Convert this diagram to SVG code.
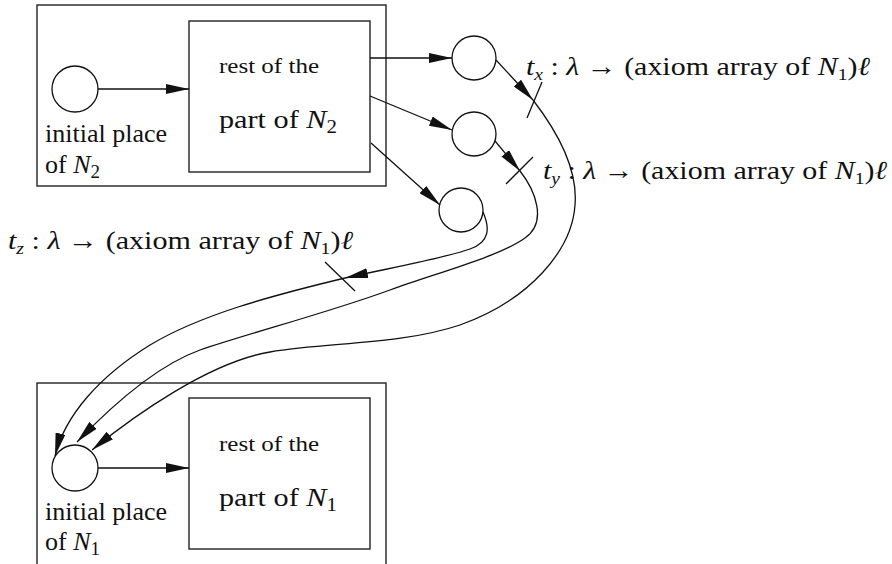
<svg xmlns="http://www.w3.org/2000/svg" width="892" height="564" viewBox="0 0 892 564">
<style>
.box{fill:none;stroke:#222;stroke-width:1.4}
.pl{fill:#fff;stroke:#111;stroke-width:1.3}
.ln{fill:none;stroke:#111;stroke-width:1.3}
.ar{fill:none;stroke:#111;stroke-width:1.3;marker-end:url(#ah)}
text{font-family:"Liberation Serif","Times New Roman",serif;fill:#111}
.lbl{font-size:26px}
.m{font-size:26px}
.it{font-style:italic}
</style>
<defs>
<marker id="ah" markerWidth="24" markerHeight="10" refX="23" refY="5" orient="auto" markerUnits="userSpaceOnUse"><path d="M0,0 L23,5 L0,10 z" fill="#111"/></marker>
</defs>
<rect width="892" height="564" fill="#fff"/>

<g id="netN2">
<rect class="box" x="37" y="5" width="349" height="181"/>
</g>
<g id="initN2">
<circle class="pl" cx="75" cy="89" r="23"/>
<text class="lbl" x="45" y="142">initial place</text>
<text class="lbl" x="45" y="173">of <tspan class="it">N</tspan><tspan font-size="19" dy="5">2</tspan></text>
</g>
<g id="restN2">
<rect class="box" x="189" y="21" width="181" height="151"/>
<text x="219" y="73" font-size="22" textLength="100" lengthAdjust="spacingAndGlyphs">rest of the</text>
<text x="219" y="128" font-size="26" textLength="118" lengthAdjust="spacingAndGlyphs">part of <tspan class="it">N</tspan><tspan font-size="18" dy="5">2</tspan></text>
</g>
<g id="pA"><circle class="pl" cx="474" cy="58" r="22"/></g>
<g id="pB"><circle class="pl" cx="474" cy="134" r="22"/></g>
<g id="pC"><circle class="pl" cx="461" cy="210" r="22"/></g>

<g id="netN1">
<rect class="box" x="37" y="383" width="349" height="190"/>
</g>
<g id="initN1">
<circle class="pl" cx="75" cy="468" r="23"/>
<text class="lbl" x="45" y="520">initial place</text>
<text class="lbl" x="45" y="550">of <tspan class="it">N</tspan><tspan font-size="19" dy="5">1</tspan></text>
</g>
<g id="restN1">
<rect class="box" x="189" y="398" width="181" height="151"/>
<text x="219" y="451" font-size="22" textLength="100" lengthAdjust="spacingAndGlyphs">rest of the</text>
<text x="219" y="506" font-size="26" textLength="118" lengthAdjust="spacingAndGlyphs">part of <tspan class="it">N</tspan><tspan font-size="18" dy="5">1</tspan></text>
</g>

<g id="connectors">
<line class="ar" x1="98" y1="89" x2="189" y2="89"/>
<line class="ar" x1="98" y1="468" x2="189" y2="468"/>
<line class="ar" x1="370" y1="58" x2="452" y2="58"/>
<line class="ar" x1="370" y1="96" x2="452" y2="130"/>
<line class="ar" x1="371" y1="143" x2="440" y2="205"/>
<line class="ar" x1="496" y1="60" x2="533" y2="100"/>
<path class="ar" d="M533,100 C560,135 578,170 575,205 C572,250 530,300 460,325 C400,345 330,342 270,352 C210,362 135,415 92,450"/>
<line class="ln" x1="542" y1="82" x2="527" y2="118"/>
<line class="ar" x1="495" y1="141" x2="520" y2="171"/>
<path class="ar" d="M520,171 C535,190 548,222 525,238 C500,256 440,272 390,290 C330,312 250,333 200,350 C150,368 100,418 77,442"/>
<line class="ln" x1="533" y1="157" x2="506" y2="184"/>
<path class="ar" d="M483,212 C490,228 490,242 470,249 C445,258 390,268 345,278"/>
<path class="ar" d="M345,278 C270,296 200,315 150,345 C100,376 65,415 55,456"/>
<line class="ln" x1="325" y1="262" x2="355" y2="291"/>
</g>

<g id="labels">
<text class="m" x="526" y="75" textLength="344" lengthAdjust="spacingAndGlyphs"><tspan class="it">t</tspan><tspan class="it" font-size="17" dy="5">x</tspan><tspan dy="-5"> : </tspan><tspan class="it">λ</tspan> → (axiom array of <tspan class="it">N</tspan><tspan font-size="17" dy="5">1</tspan><tspan dy="-5">)</tspan><tspan class="it">ℓ</tspan></text>
<text class="m" x="543" y="179" textLength="344" lengthAdjust="spacingAndGlyphs"><tspan class="it">t</tspan><tspan class="it" font-size="17" dy="5">y</tspan><tspan dy="-5"> : </tspan><tspan class="it">λ</tspan> → (axiom array of <tspan class="it">N</tspan><tspan font-size="17" dy="5">1</tspan><tspan dy="-5">)</tspan><tspan class="it">ℓ</tspan></text>
<text class="m" x="8" y="249" textLength="345" lengthAdjust="spacingAndGlyphs"><tspan class="it">t</tspan><tspan class="it" font-size="17" dy="5">z</tspan><tspan dy="-5"> : </tspan><tspan class="it">λ</tspan> → (axiom array of <tspan class="it">N</tspan><tspan font-size="17" dy="5">1</tspan><tspan dy="-5">)</tspan><tspan class="it">ℓ</tspan></text>
</g>
</svg>
